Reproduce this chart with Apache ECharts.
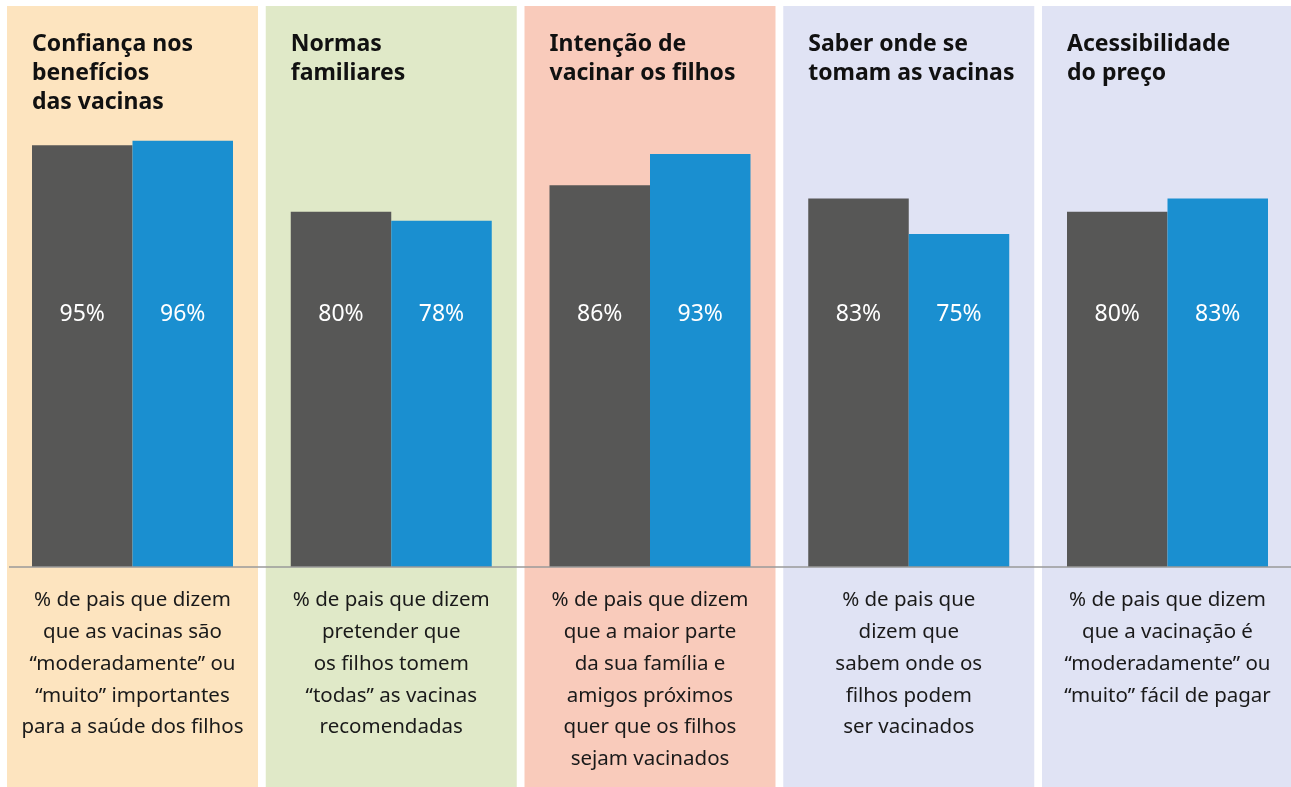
<!DOCTYPE html>
<html>
<head>
<meta charset="utf-8">
<script src="https://cdn.jsdelivr.net/npm/echarts@6/dist/echarts.min.js"></script>
<style>
html,body{margin:0;padding:0;background:#fff;}
#chart{width:1291px;height:787px;}
</style>
</head>
<body>
<div id="chart"></div>
<script>
const panelTitles = [
  'Confiança nos\nbenefícios\ndas vacinas',
  'Normas\nfamiliares',
  'Intenção de\nvacinar os filhos',
  'Saber onde se\ntomam as vacinas',
  'Acessibilidade\ndo preço'
];
const panelDescriptions = [
  '% de pais que dizem\nque as vacinas são\n“moderadamente” ou\n“muito” importantes\npara a saúde dos filhos',
  '% de pais que dizem\npretender que\nos filhos tomem\n“todas” as vacinas\nrecomendadas',
  '% de pais que dizem\nque a maior parte\nda sua família e\namigos próximos\nquer que os filhos\nsejam vacinados',
  '% de pais que\ndizem que\nsabem onde os\nfilhos podem\nser vacinados',
  '% de pais que dizem\nque a vacinação é\n“moderadamente” ou\n“muito” fácil de pagar'
];
const grayValues = [95, 80, 86, 83, 80];
const blueValues = [96, 78, 93, 75, 83];
const panelColors = ['#FDE4BF', '#E0E9C8', '#F9CBBB', '#E0E3F4', '#E0E3F4'];

const W = 1291, H = 787;
const step = 258.75;
const panelLeft0 = 7, panelWidth = 251, panelTop = 6;
const gridOffset = 25, gridWidth = 201, gridTop = 123, baseY = 567;
const FONT = '"Noto Sans"';

const grids = [], xAxes = [], yAxes = [], series = [], graphics = [];
for (let i = 0; i < 5; i++) {
  const pl = panelLeft0 + i * step;
  graphics.push({type: 'rect', z: -10, shape: {x: pl, y: panelTop, width: panelWidth, height: H - panelTop}, style: {fill: panelColors[i]}});
  graphics.push({type: 'text', z: 10, x: pl + gridOffset, y: 29.5, style: {text: panelTitles[i], font: 'bold 23px ' + FONT, fill: '#111', lineHeight: 29, textVerticalAlign: 'top'}});
  graphics.push({type: 'text', z: 10, x: pl + panelWidth / 2, y: 584.5, style: {text: panelDescriptions[i], font: '20.5px ' + FONT, fill: '#1a1a1a', lineHeight: 31.8, textAlign: 'center', textVerticalAlign: 'top'}});
  grids.push({left: pl + gridOffset, width: gridWidth, top: gridTop, bottom: H - baseY, containLabel: false});
  xAxes.push({type: 'category', gridIndex: i, data: ['A', 'B'], axisLine: {show: false}, axisTick: {show: false}, axisLabel: {show: false}});
  yAxes.push({type: 'value', gridIndex: i, min: 0, max: 100, show: false, splitLine: {show: false}});
  series.push({
    type: 'bar', xAxisIndex: i, yAxisIndex: i, barCategoryGap: 0, animation: false,
    data: [
      {value: grayValues[i], itemStyle: {color: '#575756'}},
      {value: blueValues[i], itemStyle: {color: '#1A8FD0'}}
    ],
    label: {show: true, position: 'insideBottom', distance: 241, formatter: '{c}%', color: '#fff', fontSize: 23, fontFamily: FONT}
  });
}
graphics.push({type: 'line', z: 20, shape: {x1: 9, y1: baseY, x2: W, y2: baseY}, style: {stroke: '#9a9a9a', lineWidth: 1.5}});

const chart = echarts.init(document.getElementById('chart'));
chart.setOption({
  animation: false,
  grid: grids, xAxis: xAxes, yAxis: yAxes, series: series, graphic: graphics
});
</script>
</body>
</html>
